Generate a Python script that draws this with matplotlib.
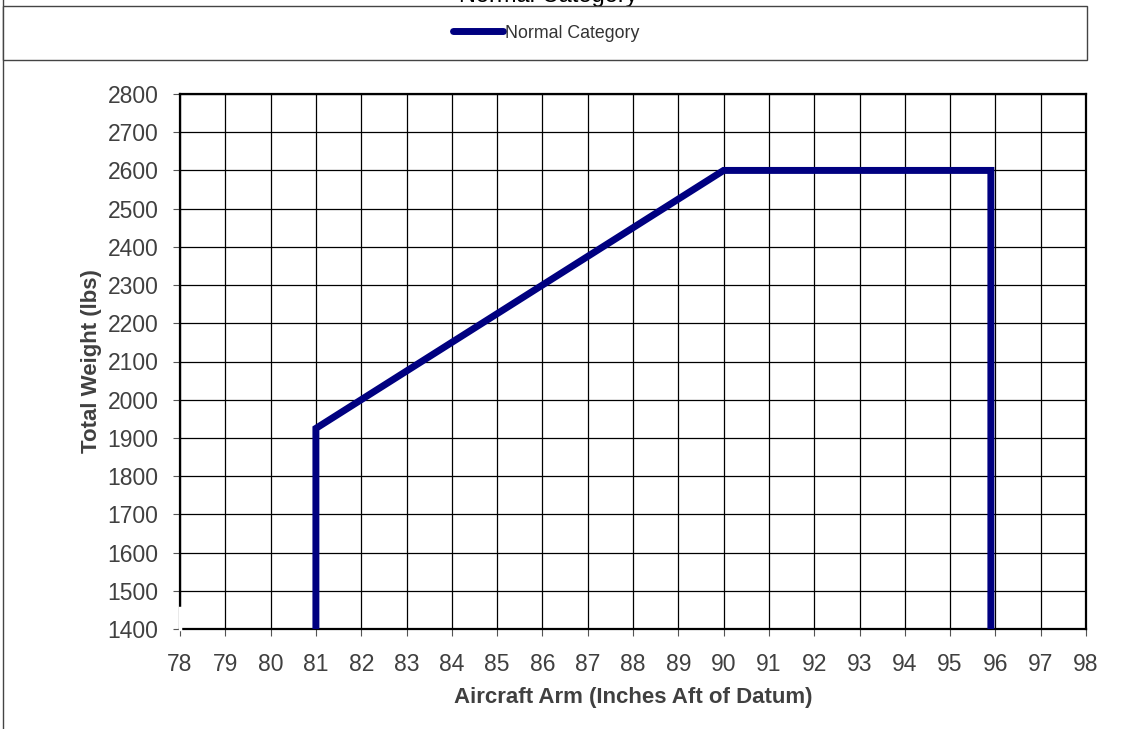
import numpy as np
import matplotlib.pyplot as plt
from matplotlib.patches import Rectangle
from matplotlib.lines import Line2D

# envelope points (arm in inches, weight in lbs)
arm = [81, 81, 90, 95.9, 95.9]
weight = [1400, 1925, 2600, 2600, 1400]
series_name = 'Normal Category'

x_ticks = list(range(78, 99))
y_ticks = list(range(1400, 2801, 100))

plt.rcParams['font.family'] = ['Liberation Sans', 'DejaVu Sans']

fig = plt.figure(figsize=(11.21, 7.29), dpi=100)
ax = fig.add_axes([180 / 1121, 1 - 629 / 729, 906 / 1121, 535 / 729])

ax.plot(arm, weight, color='#000080', linewidth=5.0, solid_joinstyle='miter',
        solid_capstyle='butt', label=series_name, zorder=3)

ax.set_xlim(78, 98)
ax.set_ylim(1400, 2800)
ax.set_xticks(x_ticks)
ax.set_yticks(y_ticks)
ax.grid(True, color='black', linewidth=0.9)
ax.tick_params(direction='out', length=5, width=0.8, color='#555555',
               labelsize=16.5, labelcolor='#404040')
ax.tick_params(axis='y', pad=10.5)
ax.tick_params(axis='x', pad=12)
for s in ax.spines.values():
    s.set_linewidth(1.6)
    s.set_color('black')

# small gap at the bottom of the left spine, like the original
ax.plot([78, 78], [1400, 1455], color='white', linewidth=2.5, clip_on=False, zorder=4)

ax.set_xlabel('Aircraft Arm (Inches Aft of Datum)', fontsize=16, fontweight='bold',
              color='#404040', labelpad=8)
ax.set_ylabel('Total Weight (lbs)', fontsize=16, fontweight='bold',
              color='#404040', labelpad=4)

# title mostly hidden behind the legend box and the top edge
fig.text(548 / 1121, 1 - 2 / 729, series_name, ha='center', va='baseline', fontsize=17,
         color='black', zorder=2)

# legend box across the top
box = Rectangle((3 / 1121, 1 - 60 / 729), 1084 / 1121, 54 / 729,
                transform=fig.transFigure, facecolor='white',
                edgecolor='#444444', linewidth=1.0, zorder=5)
fig.patches.append(box)
leg = fig.legend(loc='center', bbox_to_anchor=(546 / 1121, 1 - 33 / 729), frameon=False,
                 fontsize=12.8, handlelength=2.8, handletextpad=0.1,
                 labelcolor='#333333')
leg.set_zorder(6)
for h in leg.get_lines():
    h.set_solid_capstyle('round')

# left border of the chart area
fig.lines.append(Line2D([2.5 / 1121, 2.5 / 1121], [0, 1], transform=fig.transFigure,
                        color='#444444', linewidth=1.0))

fig.savefig('out.png', dpi=100)
